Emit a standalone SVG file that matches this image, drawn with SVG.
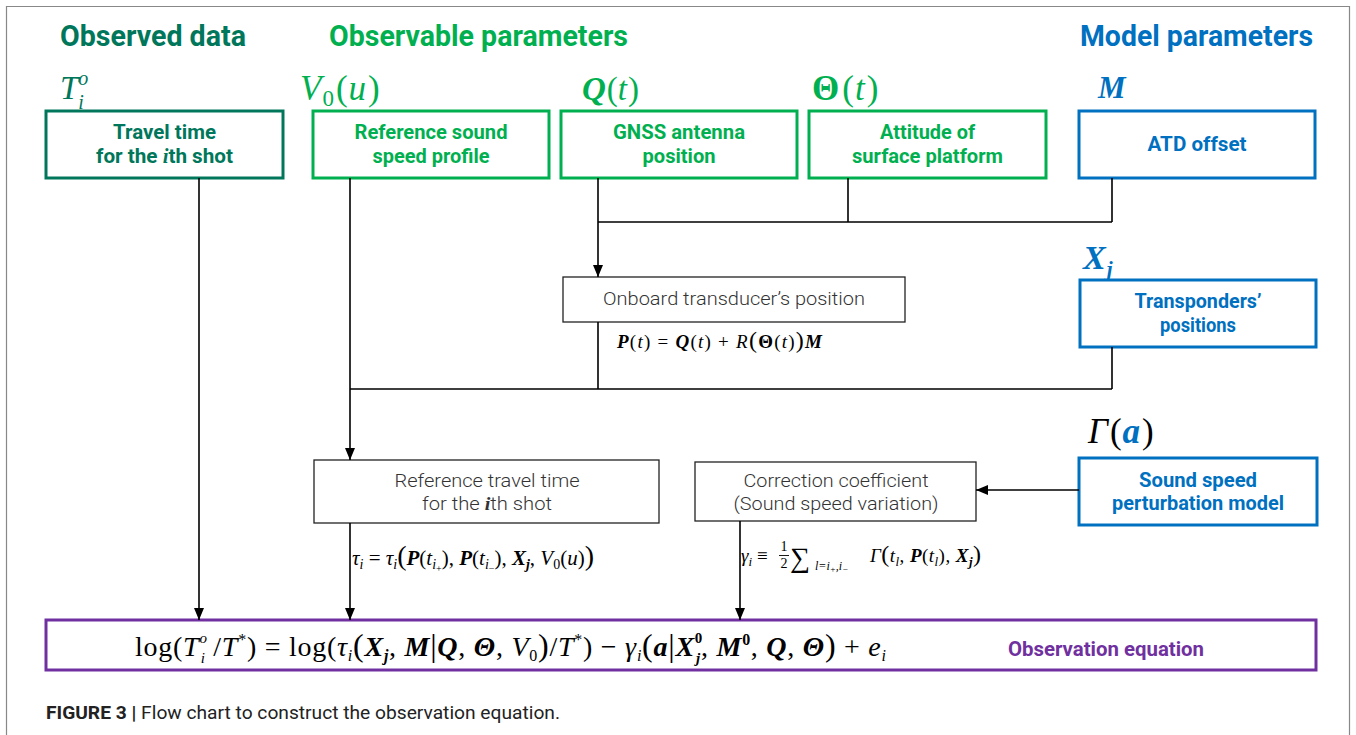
<svg xmlns="http://www.w3.org/2000/svg" width="1356" height="735" viewBox="0 0 1356 735">
<defs>
<marker id="arr" markerWidth="12" markerHeight="10" refX="12" refY="5" orient="auto" markerUnits="userSpaceOnUse"><path d="M0,0 L12,5 L0,10 z" fill="#000"/></marker>
<style>
.title{font-family:Roboto,"Liberation Sans",sans-serif;font-weight:bold;font-size:30px}
.lbl{font-family:Roboto,"Liberation Sans",sans-serif;font-weight:bold;font-size:20px;text-anchor:middle}
.plain{font-family:Roboto,"Liberation Sans",sans-serif;font-weight:300;font-size:18px;text-anchor:middle;fill:#333}
.math{font-family:"Liberation Serif","DejaVu Serif",serif}
.it{font-style:italic}
.bi{font-style:italic;font-weight:bold}
.b{font-weight:bold}
.teal{fill:#00775b}.green{fill:#00b050}.blue{fill:#0070c0}.purple{fill:#7030a0}
.bteal{fill:#fff;stroke:#00775b;stroke-width:3}
.bgreen{fill:#fff;stroke:#00b050;stroke-width:3}
.bblue{fill:#fff;stroke:#0070c0;stroke-width:3}
.bpurple{fill:#fff;stroke:#7030a0;stroke-width:3}
.bblack{fill:#fff;stroke:#222;stroke-width:1.3}
.conn{fill:none;stroke:#000;stroke-width:1.6}
.cap{font-family:Roboto,"Liberation Sans",sans-serif;font-size:18px;fill:#222}
</style>
</defs>
<rect x="0" y="0" width="1356" height="735" fill="#fff"/>
<path d="M6.5,740 V6.5 H1349.5 V740" fill="none" stroke="#888" stroke-width="1.2"/>

<!-- titles -->
<text class="title teal" x="60" y="46" textLength="186" lengthAdjust="spacingAndGlyphs">Observed data</text>
<text class="title green" x="329" y="46" textLength="299" lengthAdjust="spacingAndGlyphs">Observable parameters</text>
<text class="title blue" x="1080" y="46" textLength="233" lengthAdjust="spacingAndGlyphs">Model parameters</text>

<!-- math labels -->
<text class="math teal" x="60" y="99" font-size="33"><tspan class="it">T</tspan><tspan class="it" font-size="20" dy="-14">o</tspan><tspan class="it" font-size="20" dx="-10" dy="24">i</tspan></text>
<text class="math green" x="300" y="100" font-size="35"><tspan class="it">V</tspan><tspan font-size="23" dx="1" dy="6">0</tspan><tspan dx="2" dy="-6">(</tspan><tspan class="it" dx="1">u</tspan><tspan dx="2">)</tspan></text>
<text class="math green" x="582" y="100" font-size="33"><tspan class="bi">Q</tspan><tspan dx="1">(</tspan><tspan class="it">t</tspan><tspan dx="1">)</tspan></text>
<text class="math green" x="812" y="100" font-size="35"><tspan class="b">Θ</tspan><tspan dx="3">(</tspan><tspan class="it" dx="1">t</tspan><tspan dx="2">)</tspan></text>
<text class="math blue" x="1098" y="98" font-size="31"><tspan class="bi">M</tspan></text>
<text class="math blue" x="1083" y="269" font-size="34"><tspan class="bi">X</tspan><tspan class="bi" font-size="21" dx="1" dy="7">j</tspan></text>
<text class="math" x="1088" y="443" font-size="35"><tspan class="it">Γ</tspan><tspan dx="2">(</tspan><tspan class="bi blue" dx="1">a</tspan><tspan dx="2">)</tspan></text>

<!-- nodes -->
<g id="travel-time">
<rect class="bteal" x="46" y="111" width="237" height="67"/>
<text class="lbl teal" x="164.5" y="139" textLength="103" lengthAdjust="spacingAndGlyphs">Travel time</text>
<text class="lbl teal" x="164.5" y="163" textLength="137" lengthAdjust="spacingAndGlyphs">for the <tspan class="math bi">i</tspan>th shot</text>
</g>
<g id="ref-sound-speed">
<rect class="bgreen" x="313" y="111" width="236" height="67"/>
<text class="lbl green" x="431" y="139" textLength="153" lengthAdjust="spacingAndGlyphs">Reference sound</text>
<text class="lbl green" x="431" y="163" textLength="117" lengthAdjust="spacingAndGlyphs">speed profile</text>
</g>
<g id="gnss">
<rect class="bgreen" x="561" y="111" width="236" height="67"/>
<text class="lbl green" x="679" y="139" textLength="132" lengthAdjust="spacingAndGlyphs">GNSS antenna</text>
<text class="lbl green" x="679" y="163" textLength="73" lengthAdjust="spacingAndGlyphs">position</text>
</g>
<g id="attitude">
<rect class="bgreen" x="809" y="111" width="237" height="67"/>
<text class="lbl green" x="927.5" y="139" textLength="95" lengthAdjust="spacingAndGlyphs">Attitude of</text>
<text class="lbl green" x="927.5" y="163" textLength="151" lengthAdjust="spacingAndGlyphs">surface platform</text>
</g>
<g id="atd-offset">
<rect class="bblue" x="1079" y="111" width="236" height="67"/>
<text class="lbl blue" x="1197" y="151" textLength="99" lengthAdjust="spacingAndGlyphs">ATD offset</text>
</g>
<g id="transponders">
<rect class="bblue" x="1080" y="280" width="236" height="67"/>
<text class="lbl blue" x="1198" y="308" textLength="127" lengthAdjust="spacingAndGlyphs">Transponders’</text>
<text class="lbl blue" x="1198" y="332" textLength="76" lengthAdjust="spacingAndGlyphs">positions</text>
</g>
<g id="onboard">
<rect class="bblack" x="563" y="277" width="342" height="45"/>
<text class="plain" x="734" y="305" textLength="262" lengthAdjust="spacingAndGlyphs">Onboard transducer’s position</text>
</g>
<g id="ref-travel-time">
<rect class="bblack" x="314" y="460" width="345" height="63"/>
<text class="plain" x="487" y="487" textLength="185" lengthAdjust="spacingAndGlyphs">Reference travel time</text>
<text class="plain" x="487" y="510" textLength="130" lengthAdjust="spacingAndGlyphs">for the <tspan class="math bi" fill="#333">i</tspan>th shot</text>
</g>
<g id="correction">
<rect class="bblack" x="695" y="462" width="281" height="59"/>
<text class="plain" x="836" y="487" textLength="185" lengthAdjust="spacingAndGlyphs">Correction coefficient</text>
<text class="plain" x="836" y="510" textLength="205" lengthAdjust="spacingAndGlyphs">(Sound speed variation)</text>
</g>
<g id="sound-speed-model">
<rect class="bblue" x="1079" y="458" width="238" height="67"/>
<text class="lbl blue" x="1198" y="487" textLength="118" lengthAdjust="spacingAndGlyphs">Sound speed</text>
<text class="lbl blue" x="1198" y="510" textLength="172" lengthAdjust="spacingAndGlyphs">perturbation model</text>
</g>
<g id="observation-equation">
<rect class="bpurple" x="46" y="620" width="1270" height="50"/>
<text class="math" x="135" y="656" font-size="28" textLength="751" lengthAdjust="spacing">log(<tspan class="it">T</tspan><tspan class="it" font-size="15" dy="-13">o</tspan><tspan class="it" font-size="15" dx="-7" dy="20">i</tspan><tspan dy="-7"> /</tspan><tspan class="it">T</tspan><tspan font-size="16" dy="-11">*</tspan><tspan dy="11">) = log(</tspan><tspan class="it">τ</tspan><tspan class="it" font-size="16" dy="5">i</tspan><tspan dy="-5" font-size="32">(</tspan><tspan class="bi">X</tspan><tspan class="bi" font-size="16" dy="5">j</tspan><tspan dy="-5">, </tspan><tspan class="bi">M</tspan><tspan font-size="32">|</tspan><tspan class="bi">Q</tspan>, <tspan class="bi">Θ</tspan>, <tspan class="it">V</tspan><tspan font-size="16" dy="5">0</tspan><tspan dy="-5" font-size="32">)</tspan>/<tspan class="it">T</tspan><tspan font-size="16" dy="-11">*</tspan><tspan dy="11">) − </tspan><tspan class="it">γ</tspan><tspan class="it" font-size="16" dy="5">i</tspan><tspan dy="-5" font-size="32">(</tspan><tspan class="bi">a</tspan><tspan font-size="32">|</tspan><tspan class="bi">X</tspan><tspan class="b" font-size="15" dy="-13">0</tspan><tspan class="bi" font-size="15" dx="-7" dy="20">j</tspan><tspan dy="-7">, </tspan><tspan class="bi">M</tspan><tspan class="b" font-size="16" dy="-11">0</tspan><tspan dy="11">, </tspan><tspan class="bi">Q</tspan>, <tspan class="bi">Θ</tspan><tspan font-size="32">)</tspan> + <tspan class="it">e</tspan><tspan class="it" font-size="16" dy="5">i</tspan></text>
<text class="lbl purple" x="1106" y="656" textLength="196" lengthAdjust="spacingAndGlyphs">Observation equation</text>
</g>

<!-- formula annotations -->
<text class="math" x="617" y="348" font-size="19" textLength="205" lengthAdjust="spacing"><tspan class="bi">P</tspan>(<tspan class="it">t</tspan>) = <tspan class="bi">Q</tspan>(<tspan class="it">t</tspan>) + <tspan class="it">R</tspan><tspan font-size="24">(</tspan><tspan class="b">Θ</tspan>(<tspan class="it">t</tspan>)<tspan font-size="24">)</tspan><tspan class="bi">M</tspan></text>
<text class="math" x="352" y="565" font-size="21"><tspan class="it">τ</tspan><tspan class="it" font-size="14" dy="4">i</tspan><tspan dy="-4"> = </tspan><tspan class="it">τ</tspan><tspan class="it" font-size="14" dy="4">i</tspan><tspan dy="-4" font-size="28">(</tspan><tspan class="bi">P</tspan>(<tspan class="it">t</tspan><tspan class="it" font-size="14" dy="4">i</tspan><tspan font-size="10" dy="3">+</tspan><tspan dy="-7">), </tspan><tspan class="bi">P</tspan>(<tspan class="it">t</tspan><tspan class="it" font-size="14" dy="4">i</tspan><tspan font-size="10" dy="3">−</tspan><tspan dy="-7">), </tspan><tspan class="bi">X</tspan><tspan class="bi" font-size="14" dy="4">j</tspan><tspan dy="-4">, </tspan><tspan class="it">V</tspan><tspan font-size="14" dy="4">0</tspan><tspan dy="-4">(</tspan><tspan class="it">u</tspan>)<tspan font-size="28">)</tspan></text>
<g class="math" font-size="19">
<text x="741" y="562"><tspan class="it">γ</tspan><tspan class="it" font-size="13" dy="4">i</tspan><tspan dy="-4"> ≡</tspan></text>
<text x="784" y="551" font-size="14" text-anchor="middle">1</text>
<line x1="779" y1="555.5" x2="789" y2="555.5" stroke="#000" stroke-width="0.9"/>
<text x="784" y="568" font-size="14" text-anchor="middle">2</text>
<text x="790" y="567" font-size="28">∑</text>
<text x="815" y="570" font-size="12" class="it">l=i<tspan font-size="9" dy="2">+</tspan><tspan dy="-2">,i</tspan><tspan font-size="9" dy="2">−</tspan></text>
<text x="870" y="562" textLength="111" lengthAdjust="spacing"><tspan class="it">Γ</tspan><tspan font-size="24">(</tspan><tspan class="it">t</tspan><tspan class="it" font-size="13" dy="4">l</tspan><tspan dy="-4">, </tspan><tspan class="bi">P</tspan>(<tspan class="it">t</tspan><tspan class="it" font-size="13" dy="4">l</tspan><tspan dy="-4">), </tspan><tspan class="bi">X</tspan><tspan class="bi" font-size="13" dy="4">j</tspan><tspan dy="-4" font-size="24">)</tspan></text>
</g>

<!-- connectors -->
<g id="connectors" class="conn">
<path d="M199,178 V620" marker-end="url(#arr)"/>
<path d="M350,178 V460" marker-end="url(#arr)"/>
<path d="M598,178 V277" marker-end="url(#arr)"/>
<path d="M598,222 H1112 M848,178 V222 M1112,178 V222"/>
<path d="M598,322 V389 M350,389 H1112 M1112,347 V389"/>
<path d="M350,523 V620" marker-end="url(#arr)"/>
<path d="M740,521 V620" marker-end="url(#arr)"/>
<path d="M1079,490 H976" marker-end="url(#arr)"/>
</g>

<!-- caption -->
<text class="cap" x="46" y="719" textLength="514" lengthAdjust="spacingAndGlyphs"><tspan font-weight="bold">FIGURE 3 |</tspan> Flow chart to construct the observation equation.</text>
</svg>
